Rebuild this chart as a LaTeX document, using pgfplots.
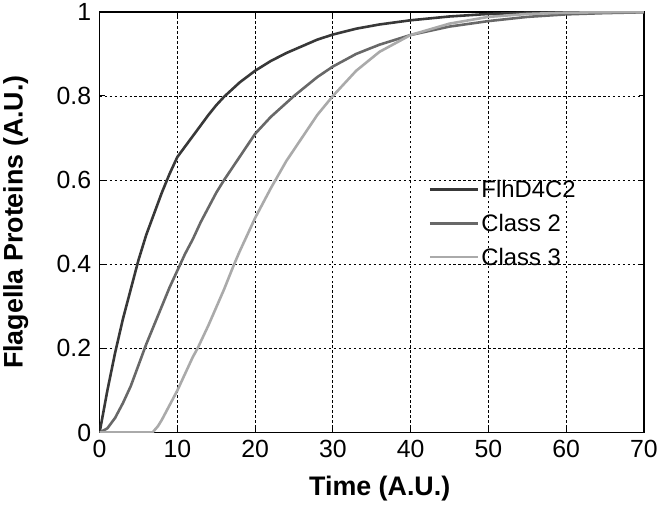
\documentclass[border=0pt]{standalone}
\usepackage{pgfplots}
\pgfplotsset{compat=1.18}
\usepackage{fontspec}
\setmainfont{Liberation Sans}

\definecolor{cdark}{HTML}{383838}
\definecolor{cmid}{HTML}{686868}
\definecolor{clight}{HTML}{AAAAAA}

\begin{document}
\begin{tikzpicture}
\begin{axis}[
    scale only axis,
    width=546bp, height=422bp,
    xmin=0, xmax=70, ymin=0, ymax=1,
    xtick={0,10,...,70},
    ytick={0,0.2,...,1},
    yticklabels={0,0.2,0.4,0.6,0.8,1},
    /pgf/number format/assume math mode=true,
    tick label style={font=\fontsize{25}{27}\selectfont},
    xticklabel style={yshift=-4bp},
    yticklabel style={xshift=-5bp},
    tick align=inside,
    major tick length=5bp,
    tick style={black, line width=1bp},
    axis line style={black, line width=1.6bp},
    grid=major,
    major grid style={black, line width=0.8bp, dash pattern=on 2.5bp off 2.5bp},
    xlabel={\textbf{Time (A.U.)}},
    ylabel={\textbf{Flagella Proteins (A.U.)}},
    every axis x label/.style={at={(rel axis cs:0.5,0)}, anchor=center, yshift=-56bp, xshift=8bp,
        font=\fontsize{27}{30}\selectfont},
    every axis y label/.style={at={(rel axis cs:0,0.5)}, xshift=-84bp, rotate=90, anchor=center,
        font=\fontsize{27}{30}\selectfont},
    legend style={draw=none, fill=none, at={(rel axis cs:0.604,0.60)}, anchor=north west,
        font=\fontsize{24}{26}\selectfont, row sep=15bp,
        inner xsep=0bp, inner ysep=0bp, nodes={inner xsep=2.5bp, inner ysep=0bp}},
    legend cell align=left,
    legend image code/.code={\draw[#1] (0bp,0bp) -- (48bp,0bp);},
]

% FlhD4C2
\addplot[cdark, line width=2.6bp] coordinates {
(0,0) (0.5,0.05) (1,0.10) (2,0.19) (3,0.27) (4,0.34) (5,0.41) (6,0.47) (7,0.52)
(8,0.57) (9,0.615) (10,0.655) (11,0.68) (12,0.705) (13,0.73) (14,0.755)
(15,0.778) (16,0.798) (18,0.832) (20,0.86) (22,0.883) (24,0.902) (26,0.918)
(28,0.934) (30,0.946) (33,0.96) (36,0.97) (40,0.98) (45,0.989) (50,0.995)
(55,0.998) (60,0.999) (70,1.0)
};
\addlegendentry{FlhD4C2}

% Class 2
\addplot[cmid, line width=2.6bp] coordinates {
(0,0) (1,0.01) (2,0.035) (3,0.07) (4,0.11) (5,0.16) (6,0.21) (7,0.255)
(8,0.30) (9,0.345) (10,0.385) (11,0.425) (12,0.46) (13,0.50) (14,0.535)
(15,0.57) (16,0.60) (18,0.655) (20,0.71) (22,0.75) (25,0.80) (28,0.845)
(30,0.87) (33,0.90) (36,0.922) (40,0.945) (45,0.965) (50,0.978) (55,0.988)
(60,0.994) (65,0.997) (70,0.999)
};
\addlegendentry{Class 2}

% Class 3
\addplot[clight, line width=2.6bp] coordinates {
(0,0) (6.8,0) (7.5,0.015) (8,0.03) (9,0.065) (10,0.10) (11,0.14) (12,0.18)
(12.6,0.2) (14,0.255) (16,0.34) (17.3,0.4) (18,0.43) (20,0.51) (22,0.58)
(24,0.645) (26,0.70) (28,0.755) (30,0.80) (33,0.86) (36,0.905) (40,0.945)
(45,0.972) (50,0.988) (55,0.995) (60,0.998) (70,1.0)
};
\addlegendentry{Class 3}

\end{axis}
\end{tikzpicture}
\end{document}
